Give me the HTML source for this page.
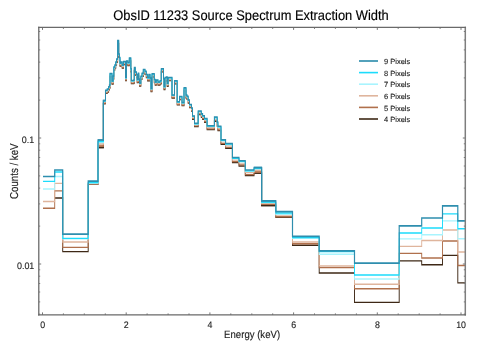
<!DOCTYPE html>
<html><head><meta charset="utf-8"><style>
html,body{margin:0;padding:0;background:#fff;}
svg{display:block;font-family:"Liberation Sans",sans-serif;will-change:transform;text-rendering:geometricPrecision;}
</style></head><body>
<svg width="480" height="343" viewBox="0 0 480 343">
<rect width="480" height="343" fill="#fff"/>
<text transform="translate(251 20) scale(0.948 1.03)" font-size="13.6" text-anchor="middle" fill="#000" stroke="#000" stroke-width="0.15">ObsID 11233 Source Spectrum Extraction Width</text>
<g fill="#222" stroke="#222" stroke-width="0.12">
<text transform="translate(42.60 327.6) scale(0.97 1.04)" font-size="9.1" text-anchor="middle">0</text>
<text transform="translate(126.30 327.6) scale(0.97 1.04)" font-size="9.1" text-anchor="middle">2</text>
<text transform="translate(210.00 327.6) scale(0.97 1.04)" font-size="9.1" text-anchor="middle">4</text>
<text transform="translate(293.70 327.6) scale(0.97 1.04)" font-size="9.1" text-anchor="middle">6</text>
<text transform="translate(377.40 327.6) scale(0.97 1.04)" font-size="9.1" text-anchor="middle">8</text>
<text transform="translate(461.10 327.6) scale(0.97 1.04)" font-size="9.1" text-anchor="middle">10</text>
<text transform="translate(34.2 142.6) scale(0.98 1.04)" font-size="9.1" text-anchor="end">0.1</text>
<text transform="translate(34.3 268.8) scale(0.98 1.04)" font-size="9.1" text-anchor="end">0.01</text>
<text transform="translate(17.6 171.2) rotate(-90) scale(0.99 1.17)" font-size="9.8" text-anchor="middle">Counts / keV</text>
<text transform="translate(252.1 337.5) scale(1.0 1.1)" font-size="9.6" text-anchor="middle">Energy (keV)</text>
</g>
<g transform="scale(0.700 1)">
<path d="M78.14 198.00 L89.57 198.00 L89.57 251.60 L126.00 251.60 L126.00 184.40 L140.00 184.40 L140.00 147.50 L147.71 147.50 L147.71 103.60 L150.71 103.60" stroke="#3e2816" stroke-width="1.35" fill="none" stroke-linejoin="miter"/>
<path d="M362.86 173.08 L373.71 173.08 L373.71 205.50 L394.00 205.50 L394.00 217.20 L417.86 217.20 L417.86 245.20 L456.00 245.20 L456.00 273.00 L506.43 273.00 L506.43 302.30 L570.29 302.30 L570.29 260.80 L602.43 260.80 L602.43 264.70 L632.14 264.70 L632.14 255.30 L654.00 255.30 L654.00 282.80 L664.29 282.80" stroke="#3e2816" stroke-width="1.35" fill="none" stroke-linejoin="miter"/>
<path d="M140.00 147.50 L147.71 147.50 L147.71 103.60 L150.71 103.60 L150.71 93.40 L153.14 93.40 L153.14 92.10 L155.14 92.10 L155.14 89.90 L156.29 89.90 L156.29 88.10 L157.14 88.10 L157.14 76.60 L160.00 76.60 L160.00 84.10 L161.71 84.10 L161.71 79.10 L162.57 79.10 L162.57 70.10 L164.00 70.10 L164.00 68.10 L165.29 68.10 L165.29 65.10 L166.57 65.10 L166.57 62.10 L168.00 62.10 L168.00 43.60 L169.57 43.60 L169.57 57.10 L170.57 57.10 L170.57 60.60 L171.43 60.60 L171.43 66.10 L172.86 66.10 L172.86 65.10 L174.57 65.10 L174.57 68.10 L176.43 68.10 L176.43 64.60 L179.29 64.60 L179.29 80.60 L180.71 80.60 L180.71 64.10 L182.57 64.10 L182.57 65.60 L184.71 65.60 L184.71 61.10 L186.86 61.10 L186.86 71.90 L187.57 71.90 L187.57 83.60 L191.14 83.60 L191.14 83.10 L191.86 83.10 L191.86 70.70 L193.29 70.70 L193.29 75.10 L195.00 75.10 L195.00 77.60 L196.00 77.60 L196.00 82.60 L197.43 82.60 L197.43 76.30 L198.29 76.30 L198.29 82.00 L199.29 82.00 L199.29 86.10 L201.14 86.10 L201.14 79.40 L202.86 79.40 L202.86 76.30 L204.71 76.30 L204.71 72.50 L207.14 72.50 L207.14 74.40 L209.00 74.40 L209.00 77.60 L210.86 77.60 L210.86 80.70 L212.71 80.70 L212.71 77.60 L214.43 77.60 L214.43 81.10 L215.71 81.10 L215.71 91.60 L217.14 91.60 L217.14 76.90 L220.43 76.90 L220.43 82.60 L221.71 82.60 L221.71 85.10 L223.29 85.10 L223.29 83.10 L225.71 83.10 L225.71 85.10 L228.57 85.10 L228.57 83.80 L230.43 83.80 L230.43 71.90 L233.57 71.90 L233.57 81.90 L234.29 81.90 L234.29 89.50 L235.71 89.50 L235.71 80.70 L237.57 80.70 L237.57 80.10 L238.86 80.10 L238.86 86.30 L240.29 86.30 L240.29 80.60 L243.71 80.60 L243.71 80.60 L245.71 80.60 L245.71 98.10 L249.29 98.10 L249.29 83.80 L253.14 83.80 L253.14 104.90 L256.43 104.90 L256.43 99.60 L260.00 99.60 L260.00 105.60 L262.86 105.60 L262.86 90.90 L265.71 90.90 L265.71 98.10 L267.14 98.10 L267.14 99.40 L268.86 99.40 L268.86 103.10 L270.71 103.10 L270.71 107.60 L273.57 107.60 L273.57 111.17 L275.00 111.17 L275.00 119.21 L277.86 119.21 L277.86 126.60 L283.14 126.60 L283.14 114.47 L287.57 114.47 L287.57 117.41 L289.43 117.41 L289.43 119.37 L292.14 119.37 L292.14 122.25 L295.86 122.25 L295.86 129.57 L306.29 129.57 L306.29 121.20 L310.29 121.20 L310.29 126.33 L311.29 126.33 L311.29 130.66 L315.71 130.66 L315.71 144.30 L322.29 144.30 L322.29 148.21 L332.00 148.21 L332.00 162.61 L341.43 162.61 L341.43 166.01 L350.43 166.01 L350.43 175.58 L362.86 175.58 L362.86 173.08 L373.71 173.08 L373.71 205.50 L394.00 205.50" stroke="#3e2816" stroke-width="1.35" fill="none" stroke-linejoin="miter"/>
<path d="M61.43 208.20 L78.14 208.20 L78.14 190.80 L89.57 190.80 L89.57 247.40 L126.00 247.40 L126.00 184.00 L140.00 184.00 L140.00 146.00 L147.71 146.00 L147.71 103.00 L150.71 103.00" stroke="#b0704c" stroke-width="1.35" fill="none" stroke-linejoin="miter"/>
<path d="M362.86 172.00 L373.71 172.00 L373.71 204.20 L394.00 204.20 L394.00 216.70 L417.86 216.70 L417.86 243.70 L456.00 243.70 L456.00 267.50 L506.43 267.50 L506.43 288.70 L570.29 288.70 L570.29 253.30 L602.43 253.30 L602.43 258.00 L632.14 258.00 L632.14 241.00 L654.00 241.00 L654.00 265.50 L664.29 265.50" stroke="#b0704c" stroke-width="1.35" fill="none" stroke-linejoin="miter"/>
<path d="M140.00 146.00 L147.71 146.00 L147.71 103.00 L150.71 103.00 L150.71 92.80 L153.14 92.80 L153.14 91.50 L155.14 91.50 L155.14 89.30 L156.29 89.30 L156.29 87.50 L157.14 87.50 L157.14 76.00 L160.00 76.00 L160.00 83.50 L161.71 83.50 L161.71 78.50 L162.57 78.50 L162.57 69.50 L164.00 69.50 L164.00 67.50 L165.29 67.50 L165.29 64.50 L166.57 64.50 L166.57 61.50 L168.00 61.50 L168.00 43.00 L169.57 43.00 L169.57 56.50 L170.57 56.50 L170.57 60.00 L171.43 60.00 L171.43 65.50 L172.86 65.50 L172.86 64.50 L174.57 64.50 L174.57 67.50 L176.43 67.50 L176.43 64.00 L179.29 64.00 L179.29 80.00 L180.71 80.00 L180.71 63.50 L182.57 63.50 L182.57 65.00 L184.71 65.00 L184.71 60.50 L186.86 60.50 L186.86 71.30 L187.57 71.30 L187.57 83.00 L191.14 83.00 L191.14 82.50 L191.86 82.50 L191.86 70.10 L193.29 70.10 L193.29 74.50 L195.00 74.50 L195.00 77.00 L196.00 77.00 L196.00 82.00 L197.43 82.00 L197.43 75.70 L198.29 75.70 L198.29 81.40 L199.29 81.40 L199.29 85.50 L201.14 85.50 L201.14 78.80 L202.86 78.80 L202.86 75.70 L204.71 75.70 L204.71 71.90 L207.14 71.90 L207.14 73.80 L209.00 73.80 L209.00 77.00 L210.86 77.00 L210.86 80.10 L212.71 80.10 L212.71 77.00 L214.43 77.00 L214.43 80.50 L215.71 80.50 L215.71 91.00 L217.14 91.00 L217.14 76.30 L220.43 76.30 L220.43 82.00 L221.71 82.00 L221.71 84.50 L223.29 84.50 L223.29 82.50 L225.71 82.50 L225.71 84.50 L228.57 84.50 L228.57 83.20 L230.43 83.20 L230.43 71.30 L233.57 71.30 L233.57 81.30 L234.29 81.30 L234.29 88.90 L235.71 88.90 L235.71 80.10 L237.57 80.10 L237.57 79.50 L238.86 79.50 L238.86 85.70 L240.29 85.70 L240.29 80.00 L243.71 80.00 L243.71 80.00 L245.71 80.00 L245.71 97.50 L249.29 97.50 L249.29 83.20 L253.14 83.20 L253.14 104.30 L256.43 104.30 L256.43 99.00 L260.00 99.00 L260.00 105.00 L262.86 105.00 L262.86 90.30 L265.71 90.30 L265.71 97.50 L267.14 97.50 L267.14 98.80 L268.86 98.80 L268.86 102.50 L270.71 102.50 L270.71 107.00 L273.57 107.00 L273.57 110.55 L275.00 110.55 L275.00 118.59 L277.86 118.59 L277.86 125.96 L283.14 125.96 L283.14 113.80 L287.57 113.80 L287.57 116.71 L289.43 116.71 L289.43 118.66 L292.14 118.66 L292.14 121.53 L295.86 121.53 L295.86 128.82 L306.29 128.82 L306.29 120.39 L310.29 120.39 L310.29 125.49 L311.29 125.49 L311.29 129.81 L315.71 129.81 L315.71 143.43 L322.29 143.43 L322.29 147.29 L332.00 147.29 L332.00 161.64 L341.43 161.64 L341.43 164.98 L350.43 164.98 L350.43 174.50 L362.86 174.50 L362.86 172.00 L373.71 172.00 L373.71 204.20 L394.00 204.20" stroke="#b0704c" stroke-width="1.25" fill="none" stroke-linejoin="miter"/>
<path d="M61.43 201.50 L78.14 201.50 L78.14 183.30 L89.57 183.30 L89.57 242.00 L126.00 242.00 L126.00 183.50 L140.00 183.50 L140.00 144.00 L147.71 144.00 L147.71 102.00 L150.71 102.00" stroke="#dfb59d" stroke-width="1.35" fill="none" stroke-linejoin="miter"/>
<path d="M362.86 170.20 L373.71 170.20 L373.71 203.00 L394.00 203.00 L394.00 215.00 L417.86 215.00 L417.86 242.00 L456.00 242.00 L456.00 265.80 L506.43 265.80 L506.43 284.20 L570.29 284.20 L570.29 246.30 L602.43 246.30 L602.43 240.50 L632.14 240.50 L632.14 230.00 L654.00 230.00 L654.00 252.00 L664.29 252.00" stroke="#dfb59d" stroke-width="1.35" fill="none" stroke-linejoin="miter"/>
<path d="M140.00 144.00 L147.71 144.00 L147.71 102.00 L150.71 102.00 L150.71 91.80 L153.14 91.80 L153.14 90.50 L155.14 90.50 L155.14 88.30 L156.29 88.30 L156.29 86.50 L157.14 86.50 L157.14 75.00 L160.00 75.00 L160.00 82.50 L161.71 82.50 L161.71 77.50 L162.57 77.50 L162.57 68.50 L164.00 68.50 L164.00 66.50 L165.29 66.50 L165.29 63.50 L166.57 63.50 L166.57 60.50 L168.00 60.50 L168.00 42.00 L169.57 42.00 L169.57 55.50 L170.57 55.50 L170.57 59.00 L171.43 59.00 L171.43 64.50 L172.86 64.50 L172.86 63.50 L174.57 63.50 L174.57 66.50 L176.43 66.50 L176.43 63.00 L179.29 63.00 L179.29 79.00 L180.71 79.00 L180.71 62.50 L182.57 62.50 L182.57 64.00 L184.71 64.00 L184.71 59.50 L186.86 59.50 L186.86 70.30 L187.57 70.30 L187.57 82.00 L191.14 82.00 L191.14 81.50 L191.86 81.50 L191.86 69.10 L193.29 69.10 L193.29 73.50 L195.00 73.50 L195.00 76.00 L196.00 76.00 L196.00 81.00 L197.43 81.00 L197.43 74.70 L198.29 74.70 L198.29 80.40 L199.29 80.40 L199.29 84.50 L201.14 84.50 L201.14 77.80 L202.86 77.80 L202.86 74.70 L204.71 74.70 L204.71 70.90 L207.14 70.90 L207.14 72.80 L209.00 72.80 L209.00 76.00 L210.86 76.00 L210.86 79.10 L212.71 79.10 L212.71 76.00 L214.43 76.00 L214.43 79.50 L215.71 79.50 L215.71 90.00 L217.14 90.00 L217.14 75.30 L220.43 75.30 L220.43 81.00 L221.71 81.00 L221.71 83.50 L223.29 83.50 L223.29 81.50 L225.71 81.50 L225.71 83.50 L228.57 83.50 L228.57 82.20 L230.43 82.20 L230.43 70.30 L233.57 70.30 L233.57 80.30 L234.29 80.30 L234.29 87.90 L235.71 87.90 L235.71 79.10 L237.57 79.10 L237.57 78.50 L238.86 78.50 L238.86 84.70 L240.29 84.70 L240.29 79.00 L243.71 79.00 L243.71 79.00 L245.71 79.00 L245.71 96.50 L249.29 96.50 L249.29 82.20 L253.14 82.20 L253.14 103.30 L256.43 103.30 L256.43 98.00 L260.00 98.00 L260.00 104.00 L262.86 104.00 L262.86 89.30 L265.71 89.30 L265.71 96.50 L267.14 96.50 L267.14 97.80 L268.86 97.80 L268.86 101.50 L270.71 101.50 L270.71 106.00 L273.57 106.00 L273.57 109.53 L275.00 109.53 L275.00 117.55 L277.86 117.55 L277.86 124.90 L283.14 124.90 L283.14 112.68 L287.57 112.68 L287.57 115.55 L289.43 115.55 L289.43 117.47 L292.14 117.47 L292.14 120.32 L295.86 120.32 L295.86 127.57 L306.29 127.57 L306.29 119.03 L310.29 119.03 L310.29 124.09 L311.29 124.09 L311.29 128.41 L315.71 128.41 L315.71 141.98 L322.29 141.98 L322.29 145.78 L332.00 145.78 L332.00 160.03 L341.43 160.03 L341.43 163.27 L350.43 163.27 L350.43 172.70 L362.86 172.70 L362.86 170.20 L373.71 170.20 L373.71 203.00 L394.00 203.00" stroke="#dfb59d" stroke-width="1.20" fill="none" stroke-linejoin="miter"/>
<path d="M61.43 189.00 L78.14 189.00 L78.14 176.50 L89.57 176.50 L89.57 238.80 L126.00 238.80 L126.00 183.00 L140.00 183.00 L140.00 142.50 L147.71 142.50 L147.71 101.20 L150.71 101.20" stroke="#a8f4fe" stroke-width="1.35" fill="none" stroke-linejoin="miter"/>
<path d="M362.86 168.76 L373.71 168.76 L373.71 202.50 L394.00 202.50 L394.00 214.20 L417.86 214.20 L417.86 238.20 L456.00 238.20 L456.00 254.20 L506.43 254.20 L506.43 279.00 L570.29 279.00 L570.29 238.80 L602.43 238.80 L602.43 234.70 L632.14 234.70 L632.14 220.80 L654.00 220.80 L654.00 238.70 L664.29 238.70" stroke="#a8f4fe" stroke-width="1.35" fill="none" stroke-linejoin="miter"/>
<path d="M140.00 142.50 L147.71 142.50 L147.71 101.20 L150.71 101.20 L150.71 91.00 L153.14 91.00 L153.14 89.70 L155.14 89.70 L155.14 87.50 L156.29 87.50 L156.29 85.70 L157.14 85.70 L157.14 74.20 L160.00 74.20 L160.00 81.70 L161.71 81.70 L161.71 76.70 L162.57 76.70 L162.57 67.70 L164.00 67.70 L164.00 65.70 L165.29 65.70 L165.29 62.70 L166.57 62.70 L166.57 59.70 L168.00 59.70 L168.00 41.20 L169.57 41.20 L169.57 54.70 L170.57 54.70 L170.57 58.20 L171.43 58.20 L171.43 63.70 L172.86 63.70 L172.86 62.70 L174.57 62.70 L174.57 65.70 L176.43 65.70 L176.43 62.20 L179.29 62.20 L179.29 78.20 L180.71 78.20 L180.71 61.70 L182.57 61.70 L182.57 63.20 L184.71 63.20 L184.71 58.70 L186.86 58.70 L186.86 69.50 L187.57 69.50 L187.57 81.20 L191.14 81.20 L191.14 80.70 L191.86 80.70 L191.86 68.30 L193.29 68.30 L193.29 72.70 L195.00 72.70 L195.00 75.20 L196.00 75.20 L196.00 80.20 L197.43 80.20 L197.43 73.90 L198.29 73.90 L198.29 79.60 L199.29 79.60 L199.29 83.70 L201.14 83.70 L201.14 77.00 L202.86 77.00 L202.86 73.90 L204.71 73.90 L204.71 70.10 L207.14 70.10 L207.14 72.00 L209.00 72.00 L209.00 75.20 L210.86 75.20 L210.86 78.30 L212.71 78.30 L212.71 75.20 L214.43 75.20 L214.43 78.70 L215.71 78.70 L215.71 89.20 L217.14 89.20 L217.14 74.50 L220.43 74.50 L220.43 80.20 L221.71 80.20 L221.71 82.70 L223.29 82.70 L223.29 80.70 L225.71 80.70 L225.71 82.70 L228.57 82.70 L228.57 81.40 L230.43 81.40 L230.43 69.50 L233.57 69.50 L233.57 79.50 L234.29 79.50 L234.29 87.10 L235.71 87.10 L235.71 78.30 L237.57 78.30 L237.57 77.70 L238.86 77.70 L238.86 83.90 L240.29 83.90 L240.29 78.20 L243.71 78.20 L243.71 78.20 L245.71 78.20 L245.71 95.70 L249.29 95.70 L249.29 81.40 L253.14 81.40 L253.14 102.50 L256.43 102.50 L256.43 97.20 L260.00 97.20 L260.00 103.20 L262.86 103.20 L262.86 88.50 L265.71 88.50 L265.71 95.70 L267.14 95.70 L267.14 97.00 L268.86 97.00 L268.86 100.70 L270.71 100.70 L270.71 105.20 L273.57 105.20 L273.57 108.72 L275.00 108.72 L275.00 116.73 L277.86 116.73 L277.86 124.05 L283.14 124.05 L283.14 111.78 L287.57 111.78 L287.57 114.62 L289.43 114.62 L289.43 116.53 L292.14 116.53 L292.14 119.35 L295.86 119.35 L295.86 126.57 L306.29 126.57 L306.29 117.95 L310.29 117.95 L310.29 122.98 L311.29 122.98 L311.29 127.28 L315.71 127.28 L315.71 140.82 L322.29 140.82 L322.29 144.56 L332.00 144.56 L332.00 158.73 L341.43 158.73 L341.43 161.90 L350.43 161.90 L350.43 171.26 L362.86 171.26 L362.86 168.76 L373.71 168.76 L373.71 202.50 L394.00 202.50" stroke="#a8f4fe" stroke-width="1.20" fill="none" stroke-linejoin="miter"/>
<path d="M61.43 181.30 L78.14 181.30 L78.14 172.00 L89.57 172.00 L89.57 238.30 L126.00 238.30 L126.00 182.50 L140.00 182.50 L140.00 141.50 L147.71 141.50 L147.71 100.95 L150.71 100.95" stroke="#1cdcfc" stroke-width="1.35" fill="none" stroke-linejoin="miter"/>
<path d="M362.86 168.31 L373.71 168.31 L373.71 202.00 L394.00 202.00 L394.00 213.00 L417.86 213.00 L417.86 237.50 L456.00 237.50 L456.00 251.50 L506.43 251.50 L506.43 275.00 L570.29 275.00 L570.29 233.00 L602.43 233.00 L602.43 228.00 L632.14 228.00 L632.14 213.80 L654.00 213.80 L654.00 228.70 L664.29 228.70" stroke="#1cdcfc" stroke-width="1.35" fill="none" stroke-linejoin="miter"/>
<path d="M140.00 141.50 L147.71 141.50 L147.71 100.95 L150.71 100.95 L150.71 90.75 L153.14 90.75 L153.14 89.45 L155.14 89.45 L155.14 87.25 L156.29 87.25 L156.29 85.45 L157.14 85.45 L157.14 73.95 L160.00 73.95 L160.00 81.45 L161.71 81.45 L161.71 76.45 L162.57 76.45 L162.57 67.45 L164.00 67.45 L164.00 65.45 L165.29 65.45 L165.29 62.45 L166.57 62.45 L166.57 59.45 L168.00 59.45 L168.00 40.95 L169.57 40.95 L169.57 54.45 L170.57 54.45 L170.57 57.95 L171.43 57.95 L171.43 63.45 L172.86 63.45 L172.86 62.45 L174.57 62.45 L174.57 65.45 L176.43 65.45 L176.43 61.95 L179.29 61.95 L179.29 77.95 L180.71 77.95 L180.71 61.45 L182.57 61.45 L182.57 62.95 L184.71 62.95 L184.71 58.45 L186.86 58.45 L186.86 69.25 L187.57 69.25 L187.57 80.95 L191.14 80.95 L191.14 80.45 L191.86 80.45 L191.86 68.05 L193.29 68.05 L193.29 72.45 L195.00 72.45 L195.00 74.95 L196.00 74.95 L196.00 79.95 L197.43 79.95 L197.43 73.65 L198.29 73.65 L198.29 79.35 L199.29 79.35 L199.29 83.45 L201.14 83.45 L201.14 76.75 L202.86 76.75 L202.86 73.65 L204.71 73.65 L204.71 69.85 L207.14 69.85 L207.14 71.75 L209.00 71.75 L209.00 74.95 L210.86 74.95 L210.86 78.05 L212.71 78.05 L212.71 74.95 L214.43 74.95 L214.43 78.45 L215.71 78.45 L215.71 88.95 L217.14 88.95 L217.14 74.25 L220.43 74.25 L220.43 79.95 L221.71 79.95 L221.71 82.45 L223.29 82.45 L223.29 80.45 L225.71 80.45 L225.71 82.45 L228.57 82.45 L228.57 81.15 L230.43 81.15 L230.43 69.25 L233.57 69.25 L233.57 79.25 L234.29 79.25 L234.29 86.85 L235.71 86.85 L235.71 78.05 L237.57 78.05 L237.57 77.45 L238.86 77.45 L238.86 83.65 L240.29 83.65 L240.29 77.95 L243.71 77.95 L243.71 77.95 L245.71 77.95 L245.71 95.45 L249.29 95.45 L249.29 81.15 L253.14 81.15 L253.14 102.25 L256.43 102.25 L256.43 96.95 L260.00 96.95 L260.00 102.95 L262.86 102.95 L262.86 88.25 L265.71 88.25 L265.71 95.45 L267.14 95.45 L267.14 96.75 L268.86 96.75 L268.86 100.45 L270.71 100.45 L270.71 104.95 L273.57 104.95 L273.57 108.46 L275.00 108.46 L275.00 116.47 L277.86 116.47 L277.86 123.78 L283.14 123.78 L283.14 111.50 L287.57 111.50 L287.57 114.32 L289.43 114.32 L289.43 116.23 L292.14 116.23 L292.14 119.04 L295.86 119.04 L295.86 126.26 L306.29 126.26 L306.29 117.61 L310.29 117.61 L310.29 122.63 L311.29 122.63 L311.29 126.93 L315.71 126.93 L315.71 140.45 L322.29 140.45 L322.29 144.18 L332.00 144.18 L332.00 158.33 L341.43 158.33 L341.43 161.47 L350.43 161.47 L350.43 170.81 L362.86 170.81 L362.86 168.31 L373.71 168.31 L373.71 202.00 L394.00 202.00" stroke="#1cdcfc" stroke-width="1.20" fill="none" stroke-linejoin="miter"/>
<path d="M61.43 176.50 L78.14 176.50 L78.14 170.00 L89.57 170.00 L89.57 234.20 L126.00 234.20 L126.00 181.20 L140.00 181.20 L140.00 140.00 L147.71 140.00 L147.71 100.50 L150.71 100.50" stroke="#2e8eae" stroke-width="1.70" fill="none" stroke-linejoin="miter"/>
<path d="M362.86 167.50 L373.71 167.50 L373.71 200.80 L394.00 200.80 L394.00 211.70 L417.86 211.70 L417.86 236.40 L456.00 236.40 L456.00 250.80 L506.43 250.80 L506.43 263.20 L570.29 263.20 L570.29 225.80 L602.43 225.80 L602.43 218.00 L632.14 218.00 L632.14 205.80 L654.00 205.80 L654.00 220.80 L664.29 220.80" stroke="#2e8eae" stroke-width="1.70" fill="none" stroke-linejoin="miter"/>
<path d="M140.00 140.00 L147.71 140.00 L147.71 100.50 L150.71 100.50 L150.71 90.30 L153.14 90.30 L153.14 89.00 L155.14 89.00 L155.14 86.80 L156.29 86.80 L156.29 85.00 L157.14 85.00 L157.14 73.50 L160.00 73.50 L160.00 81.00 L161.71 81.00 L161.71 76.00 L162.57 76.00 L162.57 67.00 L164.00 67.00 L164.00 65.00 L165.29 65.00 L165.29 62.00 L166.57 62.00 L166.57 59.00 L168.00 59.00 L168.00 40.50 L169.57 40.50 L169.57 54.00 L170.57 54.00 L170.57 57.50 L171.43 57.50 L171.43 63.00 L172.86 63.00 L172.86 62.00 L174.57 62.00 L174.57 65.00 L176.43 65.00 L176.43 61.50 L179.29 61.50 L179.29 77.50 L180.71 77.50 L180.71 61.00 L182.57 61.00 L182.57 62.50 L184.71 62.50 L184.71 58.00 L186.86 58.00 L186.86 68.80 L187.57 68.80 L187.57 80.50 L191.14 80.50 L191.14 80.00 L191.86 80.00 L191.86 67.60 L193.29 67.60 L193.29 72.00 L195.00 72.00 L195.00 74.50 L196.00 74.50 L196.00 79.50 L197.43 79.50 L197.43 73.20 L198.29 73.20 L198.29 78.90 L199.29 78.90 L199.29 83.00 L201.14 83.00 L201.14 76.30 L202.86 76.30 L202.86 73.20 L204.71 73.20 L204.71 69.40 L207.14 69.40 L207.14 71.30 L209.00 71.30 L209.00 74.50 L210.86 74.50 L210.86 77.60 L212.71 77.60 L212.71 74.50 L214.43 74.50 L214.43 78.00 L215.71 78.00 L215.71 88.50 L217.14 88.50 L217.14 73.80 L220.43 73.80 L220.43 79.50 L221.71 79.50 L221.71 82.00 L223.29 82.00 L223.29 80.00 L225.71 80.00 L225.71 82.00 L228.57 82.00 L228.57 80.70 L230.43 80.70 L230.43 68.80 L233.57 68.80 L233.57 78.80 L234.29 78.80 L234.29 86.40 L235.71 86.40 L235.71 77.60 L237.57 77.60 L237.57 77.00 L238.86 77.00 L238.86 83.20 L240.29 83.20 L240.29 77.50 L243.71 77.50 L243.71 77.50 L245.71 77.50 L245.71 95.00 L249.29 95.00 L249.29 80.70 L253.14 80.70 L253.14 101.80 L256.43 101.80 L256.43 96.50 L260.00 96.50 L260.00 102.50 L262.86 102.50 L262.86 87.80 L265.71 87.80 L265.71 95.00 L267.14 95.00 L267.14 96.30 L268.86 96.30 L268.86 100.00 L270.71 100.00 L270.71 104.50 L273.57 104.50 L273.57 108.00 L275.00 108.00 L275.00 116.00 L277.86 116.00 L277.86 123.30 L283.14 123.30 L283.14 111.00 L287.57 111.00 L287.57 113.80 L289.43 113.80 L289.43 115.70 L292.14 115.70 L292.14 118.50 L295.86 118.50 L295.86 125.70 L306.29 125.70 L306.29 117.00 L310.29 117.00 L310.29 122.00 L311.29 122.00 L311.29 126.30 L315.71 126.30 L315.71 139.80 L322.29 139.80 L322.29 143.50 L332.00 143.50 L332.00 157.60 L341.43 157.60 L341.43 160.70 L350.43 160.70 L350.43 170.00 L362.86 170.00 L362.86 167.50 L373.71 167.50 L373.71 200.80 L394.00 200.80" stroke="#2e8eae" stroke-width="1.50" fill="none" stroke-linejoin="miter"/>
</g>
<g stroke="#777" stroke-width="1" fill="none">
<path d="M42.5 314.9 V312.4 M42.5 27.4 V29.9 M63.4 314.9 V313.4 M63.4 27.4 V28.9 M84.3 314.9 V313.4 M84.3 27.4 V28.9 M105.3 314.9 V313.4 M105.3 27.4 V28.9 M126.2 314.9 V312.4 M126.2 27.4 V29.9 M147.1 314.9 V313.4 M147.1 27.4 V28.9 M168.1 314.9 V313.4 M168.1 27.4 V28.9 M189.0 314.9 V313.4 M189.0 27.4 V28.9 M209.9 314.9 V312.4 M209.9 27.4 V29.9 M230.8 314.9 V313.4 M230.8 27.4 V28.9 M251.8 314.9 V313.4 M251.8 27.4 V28.9 M272.7 314.9 V313.4 M272.7 27.4 V28.9 M293.6 314.9 V312.4 M293.6 27.4 V29.9 M314.5 314.9 V313.4 M314.5 27.4 V28.9 M335.4 314.9 V313.4 M335.4 27.4 V28.9 M356.4 314.9 V313.4 M356.4 27.4 V28.9 M377.3 314.9 V312.4 M377.3 27.4 V29.9 M398.2 314.9 V313.4 M398.2 27.4 V28.9 M419.2 314.9 V313.4 M419.2 27.4 V28.9 M440.1 314.9 V313.4 M440.1 27.4 V28.9 M461.0 314.9 V312.4 M461.0 27.4 V29.9 M38.8 314.1 H40.2 M465.3 314.1 H463.8 M38.8 301.9 H40.2 M465.3 301.9 H463.8 M38.8 292.0 H40.2 M465.3 292.0 H463.8 M38.8 283.5 H40.2 M465.3 283.5 H463.8 M38.8 276.2 H40.2 M465.3 276.2 H463.8 M38.8 269.8 H40.2 M465.3 269.8 H463.8 M38.8 264.0 H41.2 M465.3 264.0 H462.8 M38.8 226.1 H40.2 M465.3 226.1 H463.8 M38.8 203.9 H40.2 M465.3 203.9 H463.8 M38.8 188.1 H40.2 M465.3 188.1 H463.8 M38.8 175.9 H40.2 M465.3 175.9 H463.8 M38.8 166.0 H40.2 M465.3 166.0 H463.8 M38.8 157.5 H40.2 M465.3 157.5 H463.8 M38.8 150.2 H40.2 M465.3 150.2 H463.8 M38.8 143.8 H40.2 M465.3 143.8 H463.8 M38.8 138.0 H41.2 M465.3 138.0 H462.8 M38.8 100.1 H40.2 M465.3 100.1 H463.8 M38.8 77.9 H40.2 M465.3 77.9 H463.8 M38.8 62.1 H40.2 M465.3 62.1 H463.8 M38.8 49.9 H40.2 M465.3 49.9 H463.8 M38.8 40.0 H40.2 M465.3 40.0 H463.8 M38.8 31.5 H40.2 M465.3 31.5 H463.8"/>
</g>
<path d="M38.75 26.85 V315.50 M465.30 26.85 V315.50" stroke="#7e7e7e" stroke-width="1.5" fill="none"/>
<path d="M38.05 27.45 H466.00 M38.05 314.90 H466.00" stroke="#6a6a6a" stroke-width="1.25" fill="none"/>
<g fill="#222" stroke="#222" stroke-width="0.12">
<path d="M359 61.0 H378" stroke="#4a9cb8" stroke-width="1.9"/>
<text x="384" y="64.2" font-size="7.5">9 Pixels</text>
<path d="M359 72.6 H378" stroke="#1cdcfc" stroke-width="1.6"/>
<text x="384" y="75.8" font-size="7.5">8 Pixels</text>
<path d="M359 84.2 H378" stroke="#a8f4fe" stroke-width="1.6"/>
<text x="384" y="87.4" font-size="7.5">7 Pixels</text>
<path d="M359 95.8 H378" stroke="#dfb59d" stroke-width="1.6"/>
<text x="384" y="99.0" font-size="7.5">6 Pixels</text>
<path d="M359 107.4 H378" stroke="#b0704c" stroke-width="1.6"/>
<text x="384" y="110.6" font-size="7.5">5 Pixels</text>
<path d="M359 119.0 H378" stroke="#3e2816" stroke-width="1.6"/>
<text x="384" y="122.2" font-size="7.5">4 Pixels</text>
</g>
</svg>
</body></html>
